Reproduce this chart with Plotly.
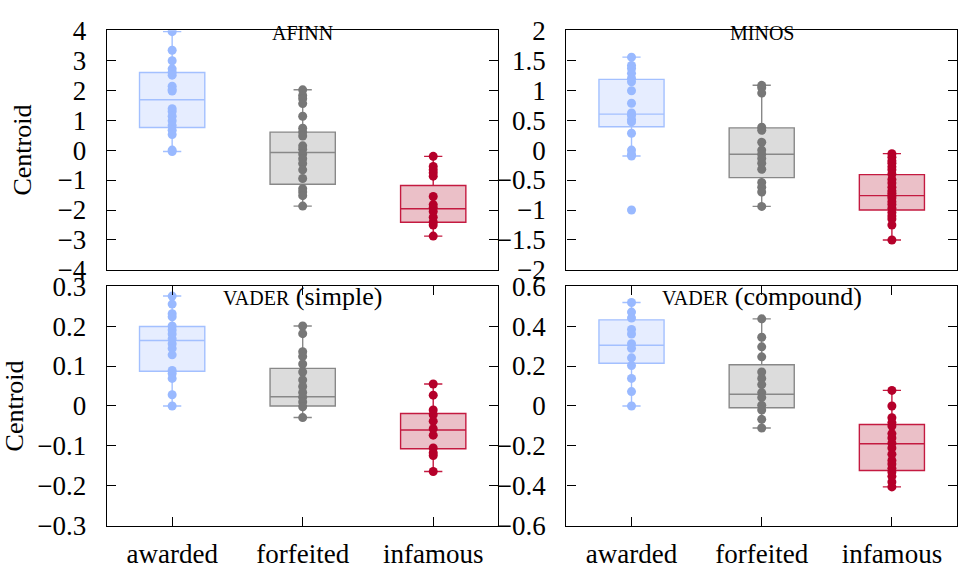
import plotly.graph_objects as go

categories = ["awarded", "forfeited", "infamous"]

# ---- data: points per panel/category ----
afinn_awarded = [3.95, 3.33, 2.98, 2.71, 2.6, 2.5, 2.13, 2.02, 1.97, 1.38, 1.29, 1.13, 0.98, 0.82, 0.66, 0.52, 0.0, -0.05]
afinn_forfeited = [2.01, 1.82, 1.71, 1.55, 1.13, 0.73, 0.6, 0.47, 0.14, 0.03, -0.13, -0.29, -0.45, -0.66, -0.95, -1.29, -1.4, -1.52, -1.87]
afinn_infamous = [-0.21, -0.55, -0.66, -0.76, -0.87, -1.55, -1.82, -1.92, -2.05, -2.24, -2.4, -2.5, -2.87]

minos_awarded = [1.55, 1.41, 1.36, 1.28, 1.2, 1.14, 0.99, 0.78, 0.62, 0.58, 0.51, 0.47, 0.28, 0.0, -0.07, -0.1, -1.0]
minos_forfeited = [1.08, 1.04, 0.95, 0.38, 0.33, 0.13, 0.0, -0.07, -0.14, -0.22, -0.32, -0.54, -0.62, -0.7, -0.94]
minos_infamous = [-0.06, -0.12, -0.18, -0.22, -0.28, -0.33, -0.4, -0.49, -0.55, -0.62, -0.68, -0.72, -0.76, -0.8, -0.86, -0.91, -0.97, -1.04, -1.1, -1.15, -1.25, -1.5]

vaders_awarded = [0.275, 0.255, 0.231, 0.223, 0.2, 0.19, 0.18, 0.168, 0.156, 0.144, 0.128, 0.089, 0.081, 0.069, 0.028, 0.0]
vaders_forfeited = [0.2, 0.181, 0.136, 0.124, 0.105, 0.085, 0.065, 0.049, 0.034, 0.022, 0.01, -0.002, -0.029]
vaders_infamous = [0.055, 0.027, -0.01, -0.022, -0.038, -0.057, -0.073, -0.105, -0.117, -0.124, -0.164]

vaderc_awarded = [0.518, 0.47, 0.44, 0.383, 0.36, 0.312, 0.289, 0.241, 0.202, 0.138, 0.072, 0.0]
vaderc_forfeited = [0.436, 0.344, 0.296, 0.246, 0.17, 0.138, 0.107, 0.067, 0.043, 0.004, -0.02, -0.067, -0.11]
vaderc_infamous = [0.078, 0.0, -0.059, -0.083, -0.1, -0.138, -0.16, -0.186, -0.21, -0.241, -0.273, -0.29, -0.312, -0.33, -0.352, -0.38, -0.405]

# ---- box statistics: [q1, median, q3, lowerfence, upperfence] ----
afinn_stats = [[0.755, 1.68, 2.59, -0.05, 3.95], [-1.14, -0.08, 0.6, -1.87, 2.01], [-2.41, -1.96, -1.18, -2.87, -0.21]]
minos_stats = [[0.39, 0.6, 1.18, -0.1, 1.55], [-0.46, -0.07, 0.37, -0.94, 1.08], [-1.0, -0.76, -0.41, -1.5, -0.06]]
vaders_stats = [[0.087, 0.164, 0.199, 0.0, 0.275], [0.0, 0.023, 0.094, -0.029, 0.2], [-0.107, -0.06, -0.019, -0.164, 0.055]]
vaderc_stats = [[0.214, 0.304, 0.431, 0.0, 0.518], [-0.009, 0.059, 0.206, -0.11, 0.436], [-0.323, -0.189, -0.093, -0.405, 0.078]]

panel_ranges = [[-4, 4], [-2, 2], [-0.3, 0.3], [-0.6, 0.6]]
afinn_ticks = [-4, -3, -2, -1, 0, 1, 2, 3, 4]
minos_ticks = [-2, -1.5, -1, -0.5, 0, 0.5, 1, 1.5, 2]
vaders_ticks = [-0.3, -0.2, -0.1, 0, 0.1, 0.2, 0.3]
vaderc_ticks = [-0.6, -0.4, -0.2, 0, 0.2, 0.4, 0.6]

point_colors = ["#99b9ff", "#777777", "#b5002a"]
line_colors = ["#a3c0ff", "#888888", "#c41a40"]
fill_colors = ["#e6edff", "#dcdcdc", "#ebc0c8"]

FONT = "Liberation Serif"


def fmt(v):
    s = ("%g" % abs(v))
    return ("\u2212" + s) if v < 0 else s


panels = [
    (afinn_stats, [afinn_awarded, afinn_forfeited, afinn_infamous], afinn_ticks),
    (minos_stats, [minos_awarded, minos_forfeited, minos_infamous], minos_ticks),
    (vaders_stats, [vaders_awarded, vaders_forfeited, vaders_infamous], vaders_ticks),
    (vaderc_stats, [vaderc_awarded, vaderc_forfeited, vaderc_infamous], vaderc_ticks),
]

W, H = 958, 575
xdoms = [[107 / W, 499 / W], [567 / W, 1.0]]
ydoms = [[1 - 269 / H, 1 - 16 / H], [1 - 539 / H, 1 - 286 / H]]

fig = go.Figure()
layout = {}
for p, (stats, pts, yt) in enumerate(panels):
    row, col = divmod(p, 2)
    ax = "" if p == 0 else str(p + 1)
    xr, yr = "x" + ax, "y" + ax
    for c in range(3):
        q1, med, q3, lf, uf = stats[c]
        fig.add_trace(go.Box(
            x=[c], q1=[q1], median=[med], q3=[q3], lowerfence=[lf], upperfence=[uf],
            width=0.5, whiskerwidth=0.28, boxpoints=False,
            fillcolor=fill_colors[c], line=dict(color=line_colors[c], width=1.4),
            xaxis=xr, yaxis=yr, showlegend=False, hoverinfo="skip"))
        fig.add_trace(go.Scatter(
            x=[c] * len(pts[c]), y=pts[c], mode="markers",
            marker=dict(color=point_colors[c], size=9),
            xaxis=xr, yaxis=yr, showlegend=False))
    bottom = row == 1
    layout["xaxis" + ax] = dict(
        domain=xdoms[col], range=[-0.5, 2.5], anchor=yr,
        tickvals=[0, 1, 2], ticktext=categories if bottom else ["", "", ""],
        ticks="inside" if bottom else "", ticklen=9, tickwidth=1.2, tickcolor="black",
        showline=True, linecolor="black", linewidth=1.4, mirror="ticks" if bottom else True,
        showgrid=False, zeroline=False, ticklabelstandoff=4,
        tickfont=dict(family=FONT, size=27, color="black"),
    )
    layout["yaxis" + ax] = dict(
        domain=ydoms[row], range=panel_ranges[p], anchor=xr,
        tickmode="array", tickvals=yt, ticktext=[fmt(v) for v in yt],
        ticks="inside", ticklen=9, tickwidth=1.2, tickcolor="black",
        showline=True, linecolor="black", linewidth=1.4, mirror="ticks",
        showgrid=False, zeroline=False, ticklabelstandoff=14,
        tickfont=dict(family=FONT, size=27, color="black"),
        title=dict(text="Centroid" if col == 0 else "", font=dict(family=FONT, size=26, color="black"),
                   standoff=18 if row == 0 else 8),
    )

titles = [
    "AFINN",
    "MINOS",
    "<span style='font-size:20px'>VADER</span> (simple)",
    "<span style='font-size:20px'>VADER</span> (compound)",
]
annotations = []
for p, t in enumerate(titles):
    ax = "" if p == 0 else str(p + 1)
    annotations.append(dict(
        text=t, xref="x" + ax + " domain", yref="y" + ax + " domain",
        x=0.5, y=1, xanchor="center", yanchor="top", yshift=10 if p < 2 else 6, showarrow=False,
        font=dict(family=FONT, size=20 if p < 2 else 26, color="black")))

fig.update_layout(
    width=W, height=H, margin=dict(l=0, r=0, t=0, b=0),
    font=dict(family=FONT, size=27, color="black"),
    paper_bgcolor="white", plot_bgcolor="white",
    boxmode="overlay", annotations=annotations, **layout)

fig.write_html("out.html")
